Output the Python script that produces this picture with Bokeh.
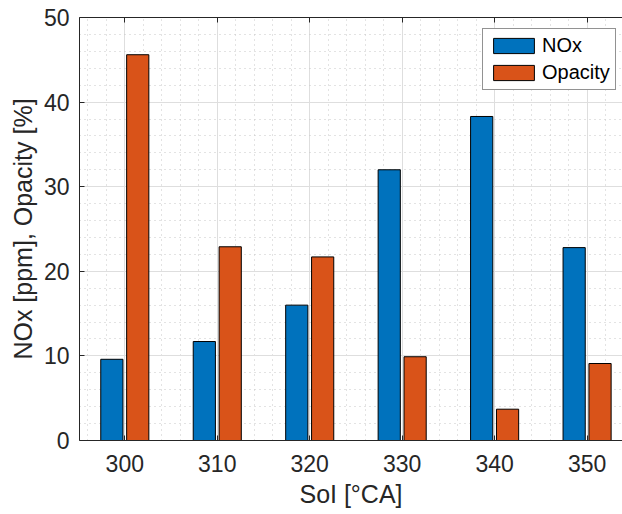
from bokeh.plotting import figure
from bokeh.models import Range1d, FixedTicker, LinearAxis, ColumnDataSource
from bokeh.transform import dodge
from bokeh.embed import file_html
from bokeh.resources import INLINE

# ---- data ----
soi = [300, 310, 320, 330, 340, 350]
nox = [9.6, 11.7, 16.0, 32.0, 38.3, 22.8]
opacity = [45.6, 22.9, 21.7, 9.9, 3.7, 9.1]
x_ticks = [300, 310, 320, 330, 340, 350]
y_ticks = [0, 10, 20, 30, 40, 50]

BLUE = "#0072BD"
ORANGE = "#D95319"
AX = "#262626"
FONT = "Liberation Sans"

src = ColumnDataSource(dict(soi=soi, nox=nox, opacity=opacity))

p = figure(width=622, height=514,
           x_range=Range1d(295.1, 353.83), y_range=Range1d(0, 50),
           output_backend="svg", toolbar_location=None,
           min_border_left=79, min_border_right=0,
           min_border_top=17, min_border_bottom=74)
p.outline_line_color = None
p.background_fill_color = "white"
p.border_fill_color = "white"

bar_w = 2.4
off = 1.4
p.vbar(x=dodge("soi", -off), top="nox", width=bar_w, source=src,
       fill_color=BLUE, line_color="black", line_width=1, legend_label="NOx")
p.vbar(x=dodge("soi", off), top="opacity", width=bar_w, source=src,
       fill_color=ORANGE, line_color="black", line_width=1, legend_label="Opacity")

xt = FixedTicker(ticks=x_ticks, minor_ticks=list(range(296, 354, 2)))
yt = FixedTicker(ticks=y_ticks, minor_ticks=list(range(0, 51, 2)))
p.xaxis.ticker = xt
p.yaxis.ticker = yt
p.xgrid.ticker = xt
p.ygrid.ticker = yt

for g in (p.xgrid, p.ygrid):
    g.grid_line_color = "#dedede"
    g.grid_line_width = 1
    g.minor_grid_line_color = "#c6c6c6"
    g.minor_grid_line_dash = "1 4"
    g.minor_grid_line_width = 1
    g.level = "underlay"

for ax in (p.xaxis, p.yaxis):
    ax.axis_line_color = AX
    ax.axis_line_width = 1
    ax.major_tick_line_color = AX
    ax.major_tick_in = 5
    ax.major_tick_out = 0
    ax.minor_tick_line_color = None
    ax.major_label_text_font = FONT
    ax.major_label_text_font_size = "23px"
    ax.major_label_text_color = AX
    ax.axis_label_text_font = FONT
    ax.axis_label_text_font_size = "25px"
    ax.axis_label_text_font_style = "normal"
    ax.axis_label_text_color = AX

p.xaxis.axis_label = "SoI [°CA]"
p.yaxis.axis_label = "NOx [ppm], Opacity [%]"
p.xaxis.major_label_standoff = 10
p.xaxis.axis_label_standoff = 5
p.yaxis.major_label_standoff = 6
p.yaxis.axis_label_standoff = 4

top = LinearAxis(ticker=xt, axis_line_color=AX, major_tick_line_color=AX,
                 major_tick_in=5, major_tick_out=0, minor_tick_line_color=None,
                 major_label_overrides={t: "" for t in x_ticks},
                 major_label_standoff=0)
p.add_layout(top, "above")

leg = p.legend[0]
leg.location = (403, 350)
leg.border_line_color = AX
leg.border_line_width = 1
leg.background_fill_color = "white"
leg.background_fill_alpha = 1
leg.label_text_font = FONT
leg.label_text_font_size = "20px"
leg.label_text_color = "black"
leg.glyph_width = 51
leg.glyph_height = 19
leg.label_height = 19
leg.label_standoff = 3
leg.spacing = 4
leg.padding = 5
leg.margin = 0

open("out.html", "w").write(file_html(p, INLINE))
